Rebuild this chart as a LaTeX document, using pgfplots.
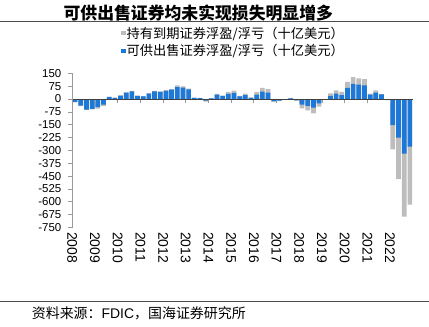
\documentclass[border=0pt]{standalone}
\usepackage{fontspec}
\setmainfont{Liberation Sans}
\newfontfamily\cjk{Noto Sans CJK SC}
\usepackage{pgfplots}
\pgfplotsset{compat=1.18}
\usepackage{pgfplotstable}
\definecolor{afsblue}{RGB}{30,120,215}
\definecolor{htmgray}{RGB}{189,189,189}

% x = quarter position (2008Q1 = 0.5), afs = AFS gain/loss, tot = end of the grey HTM segment
\pgfplotstableread{
x afs tot
0.5 -17 -20
1.5 -38 -41
2.5 -62 -64
3.5 -58 -60
4.5 -48 -56
5.5 -33 -42
6.5 12 13
7.5 5 9
8.5 19 23
9.5 37 39
10.5 45 47
11.5 18 20
12.5 16 17
13.5 31 35
14.5 45 47
15.5 41 45
16.5 47 53
17.5 55 58
18.5 70 80
19.5 66 74
20.5 56 60
21.5 6 8
22.5 5 6
23.5 -10 -16
24.5 4 5
25.5 26 30
26.5 18 20
27.5 30 40
28.5 36 49
29.5 15 19
30.5 22 32
31.5 7 10
32.5 26 40
33.5 43 65
34.5 37 57
35.5 -12 -18
36.5 -9 -12
37.5 -1 -2
38.5 3 6
39.5 -8 -9
40.5 -33 -55
41.5 -40 -66
42.5 -51 -84
43.5 -26 -45
44.5 -1 -2
45.5 19 33
46.5 31 51
47.5 22 41
48.5 65 100
49.5 88 127
50.5 84 121
51.5 80 116
52.5 26 32
53.5 37 51
54.5 27 28
55.5 -3 -7
56.5 -152 -294
57.5 -226 -467
58.5 -319 -687
59.5 -278 -617
}\datatable

\begin{document}
\begin{tikzpicture}
\useasboundingbox (0,0) rectangle (429bp,327bp);
\node[font=\cjk\bfseries\fontsize{16.9}{18}\selectfont, inner sep=0pt] at (198.3bp,314.3bp) {可供出售证券均未实现损失明显增多};
\draw[black!70, line width=0.8bp] (0bp,305.3bp) -- (429bp,305.3bp);
\draw[black!70, line width=0.8bp] (0bp,25.3bp) -- (429bp,25.3bp);
\node[anchor=west, inner sep=0pt, font=\fontsize{14}{15}\selectfont] at (31.7bp,13.7bp) {{\cjk 资料来源：}FDIC{\cjk ，国海证券研究所}};
\begin{axis}[
  at={(72.3bp,99.5bp)}, anchor=south west,
  scale only axis, width=340.4bp, height=154.2bp,
  xmin=0, xmax=60, ymin=-750, ymax=150,
  axis x line*=middle, axis y line*=left,
  hide obscured x ticks=false, hide obscured y ticks=false,
  axis on top,
  xtick={0,4,...,56},
  xticklabels={2008,2009,2010,2011,2012,2013,2014,2015,2016,2017,2018,2019,2020,2021,2022},
  ytick={-750,-675,...,150},
  /pgf/number format/assume math mode=true,
  x axis line style={black!75, line width=0.8bp},
  y axis line style={black!40, line width=0.7bp},
  tick align=outside,
  major tick length=4bp,
  tick style={black!40, line width=0.7bp},
  xticklabel style={font=\fontsize{14}{14}\selectfont, rotate=-90, anchor=west, inner sep=0pt},
  xticklabel shift=129bp,
  yticklabel style={font=\fontsize{11.5}{12}\selectfont, anchor=east, inner sep=0pt},
  yticklabel shift=6.8bp,
  legend style={at={(axis description cs:0.143,1.31)}, anchor=north west, draw=none, fill=none,
    font=\cjk\fontsize{13.3}{14}\selectfont, row sep=3bp, inner sep=0pt, nodes={inner sep=1bp}},
  legend cell align=left,
  legend image code/.code={\fill[#1] (0bp,-2.2bp) rectangle (4.4bp,2.2bp);},
]
\addplot[ybar, bar width=4.7bp, bar shift=0pt, fill=htmgray, draw=none] table[x=x, y=tot] {\datatable};
\addlegendentry{持有到期证券浮盈/浮亏（十亿美元）}
\addplot[ybar, bar width=4.7bp, bar shift=0pt, fill=afsblue, draw=none] table[x=x, y=afs] {\datatable};
\addlegendentry{可供出售证券浮盈/浮亏（十亿美元）}
\end{axis}
\end{tikzpicture}
\end{document}
